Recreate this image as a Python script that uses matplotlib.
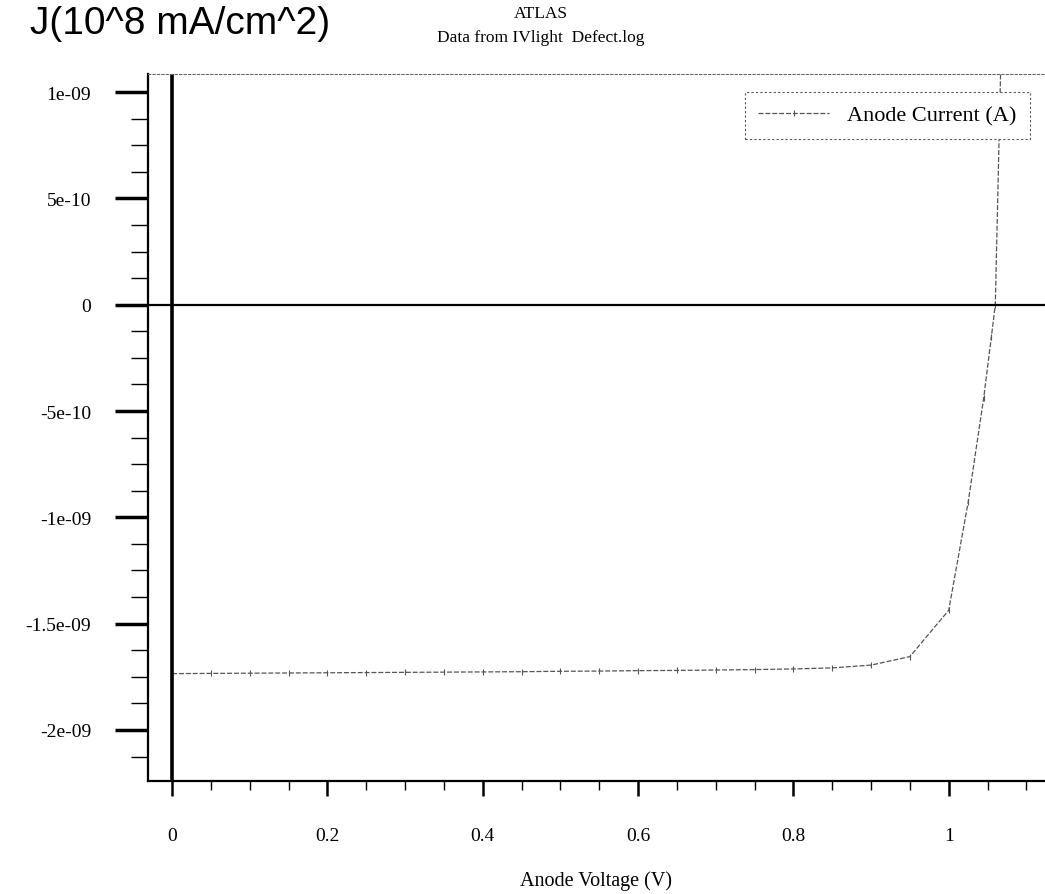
import matplotlib
matplotlib.use('Agg')
import matplotlib.pyplot as plt
from matplotlib.ticker import MultipleLocator
import numpy as np

# anode voltage (V) and anode current (A)
voltage = [0.0, 0.05, 0.1, 0.15, 0.2, 0.25, 0.3, 0.35, 0.4, 0.45, 0.5,
           0.55, 0.6, 0.65, 0.7, 0.75, 0.8, 0.85, 0.9, 0.95, 1.0,
           1.025, 1.045, 1.055, 1.06, 1.07]
current = [-1.735e-9, -1.734e-9, -1.733e-9, -1.732e-9, -1.731e-9, -1.730e-9,
           -1.729e-9, -1.728e-9, -1.727e-9, -1.726e-9, -1.724e-9, -1.723e-9,
           -1.721e-9, -1.720e-9, -1.718e-9, -1.716e-9, -1.713e-9, -1.708e-9,
           -1.695e-9, -1.655e-9, -1.437e-9, -0.93e-9, -0.44e-9, -0.15e-9,
           0.0, 1.6e-9]

xticks = [0, 0.2, 0.4, 0.6, 0.8, 1.0]
xticklabels = ['0', '0.2', '0.4', '0.6', '0.8', '1']
yticks = [1e-9, 5e-10, 0, -5e-10, -1e-9, -1.5e-9, -2e-9]
yticklabels = ['1e-09', '5e-10', '0', '-5e-10', '-1e-09', '-1.5e-09', '-2e-09']

serif = 'Liberation Serif'

fig = plt.figure(figsize=(10.45, 8.95), dpi=100)
ax = fig.add_axes([148/1045, 113/895, 897/1045, 707/895])

ax.plot(voltage, current, color='#555555', lw=0.9, ls=(0, (4, 1.5)),
        marker='|', ms=4, mew=0.8, label='Anode Current (A)')

# zero lines
ax.axvline(0, color='black', lw=2.6)
ax.axhline(0, color='black', lw=1.6)

ax.set_xlim(-0.031, 1.124)
ax.set_ylim(-2.24e-9, 1.085e-9)

ax.set_xticks(xticks)
ax.set_xticklabels(xticklabels, fontfamily=serif, fontsize=14)
ax.set_yticks(yticks)
ax.set_yticklabels(yticklabels, fontfamily=serif, fontsize=14)
ax.xaxis.set_minor_locator(MultipleLocator(0.05))
ax.yaxis.set_minor_locator(MultipleLocator(1.25e-10))

ax.tick_params(axis='y', which='major', length=24, width=2.5, pad=17)
ax.tick_params(axis='y', which='minor', length=12, width=1.0)
ax.tick_params(axis='x', which='major', length=11, width=1.8, pad=22)
ax.tick_params(axis='x', which='minor', length=6.5, width=1.0)

ax.spines['right'].set_visible(False)
ax.spines['top'].set_linestyle((0, (2, 2)))
ax.spines['top'].set_color('#666666')
ax.spines['top'].set_linewidth(0.8)
ax.spines['left'].set_linewidth(1.6)
ax.spines['bottom'].set_linewidth(1.6)

ax.set_xlabel('Anode Voltage (V)', fontfamily=serif, fontsize=14.5, labelpad=19)

leg = ax.legend(loc='upper right', bbox_to_anchor=(0.983, 0.975),
                borderaxespad=0, prop={'family': serif, 'size': 16},
                fancybox=False, handlelength=3.2, borderpad=0.6, framealpha=1)
leg.get_frame().set_edgecolor('#555555')
leg.get_frame().set_linestyle((0, (2, 2)))
leg.get_frame().set_linewidth(0.8)

fig.text(30/1045, 1 - 24/895, 'J(10^8 mA/cm^2)', fontfamily='Liberation Sans',
         fontsize=28, ha='left', va='center')
fig.text(541/1045, 1 - 14/895, 'ATLAS', fontfamily=serif, fontsize=12.5,
         ha='center', va='center')
fig.text(541/1045, 1 - 38/895, 'Data from IVlight  Defect.log', fontfamily=serif,
         fontsize=12.5, ha='center', va='center')

fig.savefig('out.png', dpi=100)
